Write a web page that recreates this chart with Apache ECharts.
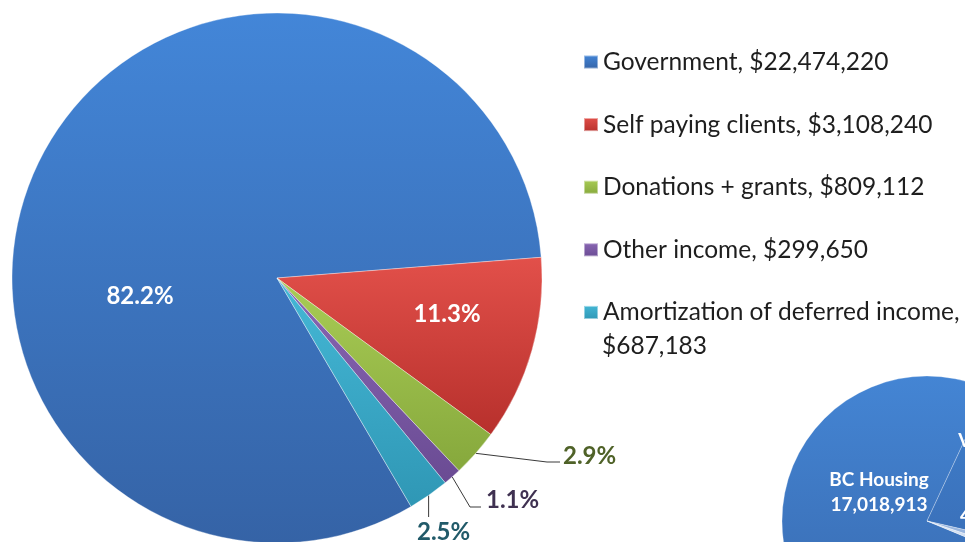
<!DOCTYPE html>
<html>
<head>
<meta charset="utf-8">
<script src="https://cdn.jsdelivr.net/npm/echarts@6/dist/echarts.min.js"></script>
<style>
  html, body { margin: 0; padding: 0; background: #ffffff; }
  #chart { width: 965px; height: 542px; }
</style>
</head>
<body>
<div id="chart"></div>
<script>
// Income sources (share of total, in %) and the dollar amounts shown in the legend
const sourceNames = ['Government', 'Self paying clients', 'Donations + grants', 'Other income', 'Amortization of deferred income'];
const sourceShares = [82.2, 11.3, 2.9, 1.1, 2.5];
const sourceAmounts = [22474220, 3108240, 809112, 299650, 687183];

// Breakdown of government funding
const govNames = ['BC Housing', 'Vancouver Coastal Health', 'Fraser Health', 'Other government'];
const govAmounts = [17018913, 4873000, 345000, 237307];

const FONT = 'Lato';

function fmt(n) {
  return String(n).replace(/\B(?=(\d{3})+(?!\d))/g, ',');
}
function grad(top, bottom) {
  return new echarts.graphic.LinearGradient(0, 0, 0, 1, [
    { offset: 0, color: top },
    { offset: 1, color: bottom }
  ]);
}

// slice fills: lighter at the top, darker at the bottom
const sourceFills = [
  grad('#4386d8', '#3563a6'),
  grad('#e2504a', '#b7302c'),
  grad('#a9cc55', '#86a83c'),
  grad('#8a67b4', '#6a4b93'),
  grad('#45b8d6', '#2f97b5')
];
const govFills = [
  grad('#4485d4', '#3767ab'),
  grad('#3f7fcc', '#3a6fb8'),
  grad('#9fbbe3', '#7d9fd0'),
  grad('#dbe6f5', '#b7cbe8')
];
const outsideColors = ['#ffffff', '#ffffff', '#4f6228', '#3f3151', '#215a69'];

const mainData = sourceNames.map((name, i) => {
  const item = { name: name, value: sourceShares[i], itemStyle: { color: sourceFills[i] } };
  if (i >= 2) {
    item.label = { position: 'outside', color: outsideColors[i] };
    item.labelLine = { show: true, length: 10, length2: 10 };
  }
  return item;
});

const govData = govNames.map((name, i) => ({
  name: name,
  value: govAmounts[i],
  itemStyle: { color: govFills[i] },
  label: { show: i < 2 }
}));

const chart = echarts.init(document.getElementById('chart'), null, { renderer: 'canvas' });

chart.setOption({
  backgroundColor: '#ffffff',
  animation: false,
  legend: {
    data: sourceNames,
    orient: 'vertical',
    left: 578,
    top: 43,
    icon: 'rect',
    itemWidth: 14,
    itemHeight: 13,
    itemGap: 34.6,
    textStyle: { fontFamily: FONT, fontSize: 24.5, color: '#1e1e1e', lineHeight: 28 },
    formatter: function (name) {
      const i = sourceNames.indexOf(name);
      return i === sourceNames.length - 1 ? name + ',' : name + ', $' + fmt(sourceAmounts[i]);
    }
  },
  graphic: [{
    type: 'text',
    left: 602,
    top: 334,
    style: {
      text: '$' + fmt(sourceAmounts[sourceAmounts.length - 1]),
      font: '24.5px ' + FONT,
      fill: '#1e1e1e'
    }
  }],
  series: [
    {
      type: 'pie',
      name: 'Government funding',
      center: [927, 521],
      radius: 145,
      startAngle: 337.6,
      clockwise: true,
      avoidLabelOverlap: false,
      silent: true,
      itemStyle: { borderColor: 'rgba(255,255,255,0.35)', borderWidth: 0.8 },
      label: {
        position: 'inside',
        color: '#ffffff',
        fontFamily: FONT,
        fontWeight: 'bold',
        fontSize: 19,
        lineHeight: 25,
        formatter: function (p) {
          return p.dataIndex === 1
            ? 'Vancouver\nCoastal\nHealth\n' + fmt(p.value)
            : p.name + '\n' + fmt(p.value);
        }
      },
      labelLine: { show: false },
      labelLayout: function (p) {
        if (p.dataIndex === 0) return { x: 879, y: 492, align: 'center', verticalAlign: 'middle' };
        if (p.dataIndex === 1) return { x: 1003, y: 478, align: 'center', verticalAlign: 'middle' };
      },
      data: govData
    },
    {
      type: 'pie',
      name: 'Income',
      center: [277, 278],
      radius: 265,
      startAngle: 300.4,
      clockwise: true,
      avoidLabelOverlap: false,
      itemStyle: { borderColor: 'rgba(255,255,255,0.45)', borderWidth: 0.8 },
      label: {
        position: 'inside',
        color: '#ffffff',
        fontFamily: FONT,
        fontWeight: 'bold',
        fontSize: 24,
        formatter: '{c}%'
      },
      labelLine: { show: false, lineStyle: { color: '#3a3a3a', width: 1 } },
      labelLayout: function (p) {
        const a = p.labelLinePoints ? p.labelLinePoints[0] : null;
        switch (p.dataIndex) {
          case 0: return { x: 140, y: 296, align: 'center', verticalAlign: 'middle' };
          case 1: return { x: 447, y: 314, align: 'center', verticalAlign: 'middle' };
          case 2: return { x: 563, y: 456, align: 'left', verticalAlign: 'middle',
                           labelLinePoints: [a, [547, 462], [560, 462]] };
          case 3: return { x: 486, y: 500, align: 'left', verticalAlign: 'middle',
                           labelLinePoints: [a, [470, 507], [481, 507]] };
          case 4: return { x: 417, y: 532, align: 'left', verticalAlign: 'middle',
                           labelLinePoints: [a, [a[0], 517]] };
        }
      },
      data: mainData
    }
  ]
});
</script>
</body>
</html>
